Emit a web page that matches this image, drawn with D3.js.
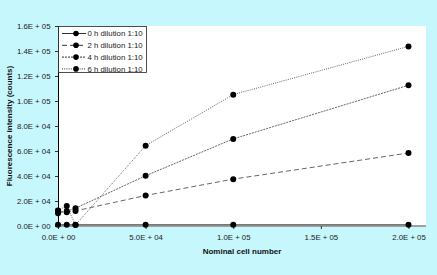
<!DOCTYPE html>
<html><head><meta charset="utf-8">
<script src="https://cdn.jsdelivr.net/npm/d3@7"></script>
<style>
html,body{margin:0;padding:0;background:#c6f7fc;}
svg{display:block;font-family:"Liberation Sans",Arial,sans-serif;}
</style></head>
<body><svg id="c" width="437" height="275"></svg>
<script>
const cellNumbers = [0, 5000, 10000, 50000, 100000, 200000];
const seriesNames = ["0 h dilution 1:10", "2 h dilution 1:10", "4 h dilution 1:10", "6 h dilution 1:10"];
const values0h = [1000, 1000, 1000, 1000, 1000, 1000];
const values2h = [12300, 11000, 12100, 24400, 37500, 58400];
const values4h = [10200, 12000, 14200, 40200, 69700, 112600];
const values6h = [12500, 16100, 800, 64300, 105100, 143700];
const yTicks = [0, 20000, 40000, 60000, 80000, 100000, 120000, 140000, 160000];
const yTickLabels = ["0.0E + 00","2.0E + 04","4.0E + 04","6.0E + 04","8.0E + 04","1.0E + 05","1.2E + 05","1.4E + 05","1.6E + 05"];
const xTicks = [0, 50000, 100000, 150000, 200000];
const xTickLabels = ["0.0E + 00","5.0E + 04","1.0E + 05","1.5E + 05","2.0E + 05"];

const allValues = [values0h, values2h, values4h, values6h];
const dashes = [null, "5,3", "2,1", "1,1.2"];
const svg = d3.select("#c");
const L = 58, R = 426, T = 26, B = 226;
const x = d3.scaleLinear().domain([0, 210000]).range([L, R]);
const y = d3.scaleLinear().domain([0, 160000]).range([B, T]);

svg.append("rect").attr("x", L).attr("y", T).attr("width", R - L).attr("height", B - T).attr("fill", "#fff");

svg.append("line").attr("x1", L).attr("x2", R).attr("y1", B).attr("y2", B)
  .attr("stroke", "#a0a0a0").attr("stroke-width", 2);

const yAxis = d3.axisLeft(y).tickValues(yTicks).tickFormat((d, i) => yTickLabels[i]).tickSize(3).tickSizeOuter(0);
const gy = svg.append("g").attr("transform", `translate(${L},0)`).call(yAxis);
gy.select(".domain").attr("stroke", "#000");
gy.selectAll("text").attr("font-size", 7.8).attr("fill", "#222").attr("dx", -1.5);
gy.selectAll("line").attr("stroke", "#333");

const xAxis = d3.axisBottom(x).tickValues(xTicks).tickFormat((d, i) => xTickLabels[i]).tickSize(3).tickSizeOuter(0);
const gx = svg.append("g").attr("transform", `translate(0,${B})`).call(xAxis);
gx.select(".domain").remove();
gx.selectAll("text").attr("font-size", 7.8).attr("fill", "#222").attr("dy", "1.0em");
gx.selectAll("line").attr("stroke", "#333");

svg.append("text").attr("x", (L + R) / 2).attr("y", 254).attr("text-anchor", "middle")
  .attr("font-size", 8).attr("font-weight", "bold").attr("fill", "#111").text("Nominal cell number");
svg.append("text").attr("transform", `translate(12,${(T + B) / 2}) rotate(-90)`).attr("text-anchor", "middle")
  .attr("font-size", 8).attr("font-weight", "bold").attr("fill", "#111").text("Fluorescence intensity (counts)");

const line = d3.line().x((d, i) => x(cellNumbers[i])).y(d => y(d));
allValues.forEach((vals, k) => {
  svg.append("path").attr("d", line(vals)).attr("fill", "none")
    .attr("stroke", k === 0 ? "#777" : "#555").attr("stroke-width", k === 0 ? 1.5 : 0.9)
    .attr("stroke-dasharray", dashes[k]);
});
allValues.forEach(vals => {
  svg.append("g").selectAll("circle").data(vals).join("circle")
    .attr("cx", (d, i) => x(cellNumbers[i])).attr("cy", d => y(d)).attr("r", 3).attr("fill", "#000");
});

const lg = svg.append("g");
lg.append("rect").attr("x", 58.5).attr("y", 26.5).attr("width", 88).attr("height", 46)
  .attr("fill", "#fff").attr("stroke", "#222").attr("stroke-width", 0.8);
seriesNames.forEach((name, k) => {
  const yy = 33.5 + k * 11.8;
  lg.append("line").attr("x1", 62).attr("x2", 86).attr("y1", yy).attr("y2", yy)
    .attr("stroke", "#333").attr("stroke-width", 1).attr("stroke-dasharray", dashes[k]);
  lg.append("circle").attr("cx", 76).attr("cy", yy).attr("r", 2.8).attr("fill", "#000");
  lg.append("text").attr("x", 87.5).attr("y", yy + 2.8).attr("font-size", 7.8).attr("fill", "#222").text(name);
});
</script></body></html>
